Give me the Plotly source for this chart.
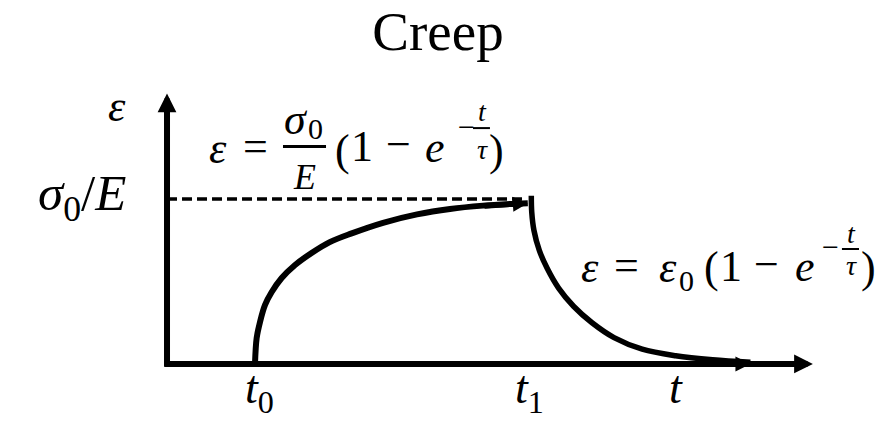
import plotly.graph_objects as go

# ---- data (time in arbitrary units, strain normalised by sigma0/E) ----
T0 = 1.0
T1 = 4.125
T_LABEL = 5.784
X_AXIS_END = 7.34
Y_AXIS_END = 1.64
SIGMA_LEVEL = 1.0

creep_t = [1.00, 1.019, 1.057, 1.114, 1.19, 1.303, 1.455, 1.643, 1.849, 2.099, 2.455, 2.841, 3.216, 3.591, 3.977, 4.10]
creep_e = [0.00, 0.158, 0.255, 0.358, 0.436, 0.521, 0.600, 0.673, 0.739, 0.792, 0.856, 0.907, 0.940, 0.960, 0.972, 0.975]

recov_t = [4.14, 4.145, 4.17, 4.23, 4.32, 4.45, 4.62, 4.83, 5.08, 5.40, 5.78, 6.20, 6.63]
recov_e = [1.02, 0.92, 0.81, 0.69, 0.58, 0.46, 0.35, 0.25, 0.16, 0.09, 0.05, 0.025, 0.01]

tick_labels = ["<i>t</i><sub>0</sub>", "<i>t</i><sub>1</sub>", "<i>t</i>"]
tick_pos = [T0 + 0.05, T1, T_LABEL]
tick_y = [-0.164, -0.164, -0.14]

FONT = "Liberation Serif"
BLACK = "#000000"

fig = go.Figure()

# axes lines
fig.add_trace(go.Scatter(x=[-0.03, X_AXIS_END - 0.1], y=[0, 0], mode="lines",
                         line=dict(color=BLACK, width=6), hoverinfo="skip"))
fig.add_trace(go.Scatter(x=[0, 0], y=[-0.015, Y_AXIS_END - 0.05], mode="lines",
                         line=dict(color=BLACK, width=6), hoverinfo="skip"))
# dashed sigma0/E line
fig.add_trace(go.Scatter(x=[0, creep_t[-1] - 0.05], y=[SIGMA_LEVEL, SIGMA_LEVEL], mode="lines",
                         line=dict(color=BLACK, width=3.5, dash="10px,5px"), hoverinfo="skip"))
# creep curve
fig.add_trace(go.Scatter(x=creep_t, y=creep_e, mode="lines",
                         line=dict(color=BLACK, width=6, shape="spline", smoothing=1.0),
                         hoverinfo="skip"))
# recovery curve
fig.add_trace(go.Scatter(x=recov_t, y=recov_e, mode="lines",
                         line=dict(color=BLACK, width=5.5, shape="spline", smoothing=1.0),
                         hoverinfo="skip"))

ann = []
def arrow(x, y, ax, ay, size):
    ann.append(dict(x=x, y=y, ax=ax, ay=ay, xref="x", yref="y", axref="x", ayref="y",
                    text="", showarrow=True, arrowhead=2, arrowwidth=5, arrowsize=size,
                    arrowcolor=BLACK, standoff=0))

arrow(X_AXIS_END, 0, X_AXIS_END - 0.3, 0, 0.75)
arrow(0, Y_AXIS_END, 0, Y_AXIS_END - 0.2, 0.75)
arrow(creep_t[-1], creep_e[-1], creep_t[-3], creep_e[-3] - 0.005, 0.6)
arrow(recov_t[-1], 0.0, recov_t[-3], 0.0, 0.6)

def txt(x, y, s, size, xanchor="center", yanchor="middle"):
    ann.append(dict(x=x, y=y, xref="x", yref="y", text=s, showarrow=False,
                    xanchor=xanchor, yanchor=yanchor,
                    font=dict(family=FONT, size=size, color=BLACK)))

# tick labels
for p, yy, s in zip(tick_pos, tick_y, tick_labels):
    txt(p, yy, s, 46)

# axis labels
txt(-0.568, 1.558, "<i>ε</i>", 44)
txt(-0.443, 1.01, "<i>σ</i><sub>0</sub>/<i>E</i>", 51, xanchor="right")

# equation 1 : ε = σ0/E (1 − e^(−t/τ))
txt(0.580, 1.309, "<i>ε</i>", 44)
txt(1.011, 1.321, "=", 44)
txt(1.466, 1.485, "<i>σ</i>", 44)
txt(1.693, 1.430, "0", 30)
txt(1.568, 1.133, "<i>E</i>", 36)
txt(1.989, 1.297, "(", 44)
txt(2.216, 1.321, "1", 44)
txt(2.636, 1.333, "−", 44)
txt(3.045, 1.315, "<i>e</i>", 44)
txt(3.398, 1.442, "−", 30)
txt(3.580, 1.530, "<i>t</i>", 28)
txt(3.580, 1.300, "<i>τ</i>", 28)
txt(3.750, 1.297, ")", 44)

# equation 2 : ε = ε0 (1 − e^(−t/τ))
txt(4.807, 0.582, "<i>ε</i>", 44)
txt(5.216, 0.594, "=", 44)
txt(5.693, 0.582, "<i>ε</i>", 44)
txt(5.898, 0.509, "0", 30)
txt(6.182, 0.582, "(", 44)
txt(6.409, 0.588, "1", 44)
txt(6.807, 0.606, "−", 44)
txt(7.250, 0.588, "<i>e</i>", 44)
txt(7.545, 0.715, "−", 30)
txt(7.773, 0.792, "<i>t</i>", 28)
txt(7.773, 0.594, "<i>τ</i>", 28)
txt(7.977, 0.582, ")", 44)

shapes = [
    dict(type="line", xref="x", yref="y", x0=1.318, x1=1.807, y0=1.318, y1=1.318,
         line=dict(color=BLACK, width=3)),
    dict(type="line", xref="x", yref="y", x0=3.477, x1=3.670, y0=1.430, y1=1.430,
         line=dict(color=BLACK, width=2)),
    dict(type="line", xref="x", yref="y", x0=7.670, x1=7.864, y0=0.697, y1=0.697,
         line=dict(color=BLACK, width=2)),
]

fig.update_layout(
    width=876, height=418, autosize=False,
    margin=dict(l=0, r=0, t=0, b=0),
    paper_bgcolor="white", plot_bgcolor="white",
    showlegend=False,
    title=dict(text="Creep", x=0.4909, xanchor="center", y=0.946, yanchor="middle",
               font=dict(family=FONT, size=55, color=BLACK)),
    xaxis=dict(range=[-1.807, 8.148], visible=False, fixedrange=True),
    yaxis=dict(range=[-0.376, 2.158], visible=False, fixedrange=True),
    annotations=ann,
    shapes=shapes,
)

fig.write_html("out.html")
